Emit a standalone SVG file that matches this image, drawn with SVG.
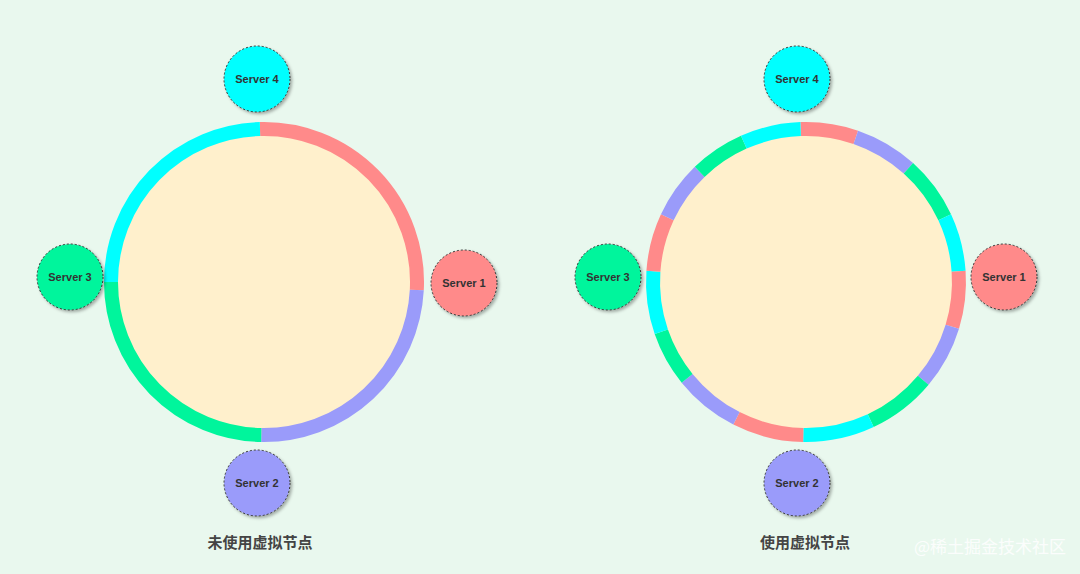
<svg xmlns="http://www.w3.org/2000/svg" width="1080" height="574" viewBox="0 0 1080 574">
<defs>
<filter id="sh" x="-30%" y="-30%" width="160%" height="160%"><feDropShadow dx="2" dy="2" stdDeviation="1.5" flood-color="#000" flood-opacity="0.3"/></filter>
</defs>
<style>
.seg{fill:none;stroke-width:14}
.r{stroke:#ff8a8a}.b{stroke:#9a9bfa}.g{stroke:#00f59c}.c{stroke:#00ffff}
.srv circle{stroke:#333;stroke-width:1;stroke-dasharray:2 2;filter:url(#sh)}
.srv text{font-family:"Liberation Sans",Arial,sans-serif;font-size:11px;font-weight:bold;fill:#333;text-anchor:middle}
.cap{font-family:"Liberation Sans","Noto Sans CJK SC",sans-serif;font-size:15px;font-weight:bold;fill:#444;text-anchor:middle}
</style>
<rect width="1080" height="574" fill="#e9f8ee"/>
<circle cx="264" cy="282" r="153" fill="#fff0cc"/>
<circle cx="806" cy="282" r="153" fill="#fff0cc"/>
<g id="connectors">
<path class="seg r" d="M260,129.05 A153,153 0 0 1 416.8,290"/>
<path class="seg b" d="M416.8,290 A153,153 0 0 1 261.3,435"/>
<path class="seg g" d="M261.3,435 A153,153 0 0 1 111,282"/>
<path class="seg c" d="M111,282 A153,153 0 0 1 260,129.05"/>

<path class="seg r" d="M800.66,129.09 A153,153 0 0 1 855.8,137.3"/>
<path class="seg b" d="M855.8,137.3 A153,153 0 0 1 908.4,168.3"/>
<path class="seg g" d="M908.4,168.3 A153,153 0 0 1 944.7,217.3"/>
<path class="seg c" d="M944.7,217.3 A153,153 0 0 1 958.6,271.3"/>
<path class="seg r" d="M958.6,271.3 A153,153 0 0 1 952.3,326.7"/>
<path class="seg b" d="M952.3,326.7 A153,153 0 0 1 923.2,380.3"/>
<path class="seg g" d="M923.2,380.3 A153,153 0 0 1 870.7,420.7"/>
<path class="seg c" d="M870.7,420.7 A153,153 0 0 1 803.3,435"/>
<path class="seg r" d="M803.3,435 A153,153 0 0 1 736.5,418.3"/>
<path class="seg b" d="M736.5,418.3 A153,153 0 0 1 687.1,378.3"/>
<path class="seg g" d="M687.1,378.3 A153,153 0 0 1 661.3,331.8"/>
<path class="seg c" d="M661.3,331.8 A153,153 0 0 1 653.4,271.3"/>
<path class="seg r" d="M653.4,271.3 A153,153 0 0 1 667.3,217.3"/>
<path class="seg b" d="M667.3,217.3 A153,153 0 0 1 699.7,171.9"/>
<path class="seg g" d="M699.7,171.9 A153,153 0 0 1 743.8,142.2"/>
<path class="seg c" d="M743.8,142.2 A153,153 0 0 1 800.66,129.09"/>
</g>
<g id="l-s4" class="srv"><circle cx="257" cy="79" r="33" fill="#00ffff"/><text x="257" y="83">Server 4</text></g>
<g id="l-s1" class="srv"><circle cx="464" cy="283" r="33" fill="#ff8a8a"/><text x="464" y="287">Server 1</text></g>
<g id="l-s2" class="srv"><circle cx="257" cy="483" r="33" fill="#9a9bfa"/><text x="257" y="487">Server 2</text></g>
<g id="l-s3" class="srv"><circle cx="70" cy="277" r="33" fill="#00f59c"/><text x="70" y="281">Server 3</text></g>
<g id="r-s4" class="srv"><circle cx="797" cy="79" r="33" fill="#00ffff"/><text x="797" y="83">Server 4</text></g>
<g id="r-s1" class="srv"><circle cx="1004" cy="277" r="33" fill="#ff8a8a"/><text x="1004" y="281">Server 1</text></g>
<g id="r-s2" class="srv"><circle cx="797" cy="483" r="33" fill="#9a9bfa"/><text x="797" y="487">Server 2</text></g>
<g id="r-s3" class="srv"><circle cx="608" cy="277" r="33" fill="#00f59c"/><text x="608" y="281">Server 3</text></g>
<text class="cap" x="260" y="548">未使用虚拟节点</text>
<text class="cap" x="805" y="548">使用虚拟节点</text>
<text x="990" y="553" font-family="'Noto Sans CJK SC',sans-serif" font-size="17" fill="#ffffff" fill-opacity="0.85" text-anchor="middle">@稀土掘金技术社区</text>
</svg>
